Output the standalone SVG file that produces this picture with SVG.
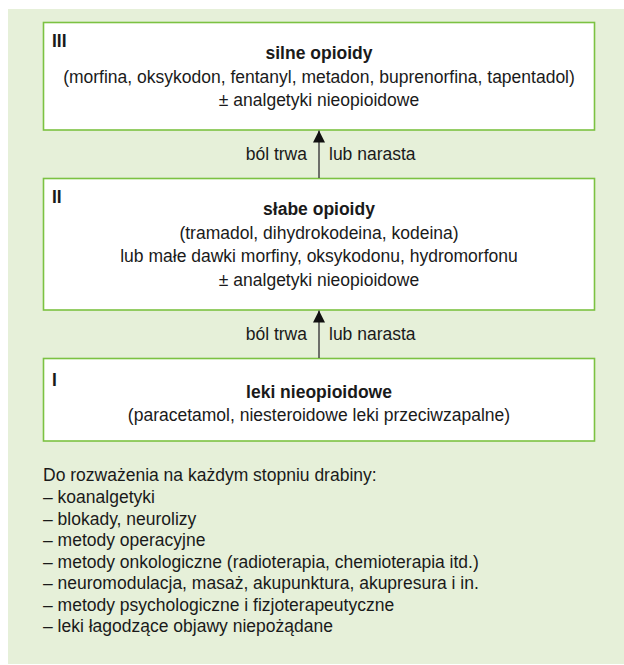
<svg xmlns="http://www.w3.org/2000/svg" width="624" height="665" viewBox="0 0 624 665">
<style>
text{font-family:"Liberation Sans",Arial,sans-serif;font-size:17.5px;fill:#1a1a1a}
.c{text-anchor:middle}
.b{font-weight:bold}
.box{fill:#ffffff;stroke:#7cc242;stroke-width:1.6}
.con{stroke:#444;stroke-width:1.5;fill:none}
</style>
<defs>
<marker id="ah" markerWidth="12" markerHeight="12" refX="12" refY="6" viewBox="0 0 12 12" orient="auto" markerUnits="userSpaceOnUse">
<path d="M0,0 L12,6 L0,12 Z" fill="#111"/>
</marker>
</defs>
<rect x="8" y="9" width="616" height="655" fill="#e6f0d9"/>
<g id="step3">
<rect class="box" x="43.5" y="22.5" width="551" height="107.5"/>
<text class="b" x="52" y="47">III</text>
<text class="c b" x="319" y="59">silne opioidy</text>
<text class="c" x="319" y="82.5">(morfina, oksykodon, fentanyl, metadon, buprenorfina, tapentadol)</text>
<text class="c" x="319" y="106">± analgetyki nieopioidowe</text>
</g>
<g id="step2">
<rect class="box" x="43.5" y="178.5" width="551" height="131.5"/>
<text class="b" x="52" y="203">II</text>
<text class="c b" x="319" y="215">słabe opioidy</text>
<text class="c" x="319" y="238.5">(tramadol, dihydrokodeina, kodeina)</text>
<text class="c" x="319" y="262">lub małe dawki morfiny, oksykodonu, hydromorfonu</text>
<text class="c" x="319" y="285.5">± analgetyki nieopioidowe</text>
</g>
<g id="step1">
<rect class="box" x="43.5" y="358.5" width="551" height="82.5"/>
<text class="b" x="52" y="386">I</text>
<text class="c b" x="319" y="398">leki nieopioidowe</text>
<text class="c" x="319" y="421">(paracetamol, niesteroidowe leki przeciwzapalne)</text>
</g>
<g id="connectors">
<line class="con" x1="319" y1="178" x2="319" y2="130.5" marker-end="url(#ah)"/>
<line class="con" x1="319" y1="358" x2="319" y2="310.5" marker-end="url(#ah)"/>
<text x="307" y="160" text-anchor="end">ból trwa</text>
<text x="329" y="160">lub narasta</text>
<text x="307" y="340" text-anchor="end">ból trwa</text>
<text x="329" y="340">lub narasta</text>
</g>
<g id="notes">
<text x="43" y="481">Do rozważenia na każdym stopniu drabiny:</text>
<text x="43" y="503">– koanalgetyki</text>
<text x="43" y="524.5">– blokady, neurolizy</text>
<text x="43" y="546">– metody operacyjne</text>
<text x="43" y="567.5">– metody onkologiczne (radioterapia, chemioterapia itd.)</text>
<text x="43" y="589">– neuromodulacja, masaż, akupunktura, akupresura i in.</text>
<text x="43" y="610.5">– metody psychologiczne i fizjoterapeutyczne</text>
<text x="43" y="632">– leki łagodzące objawy niepożądane</text>
</g>
</svg>
